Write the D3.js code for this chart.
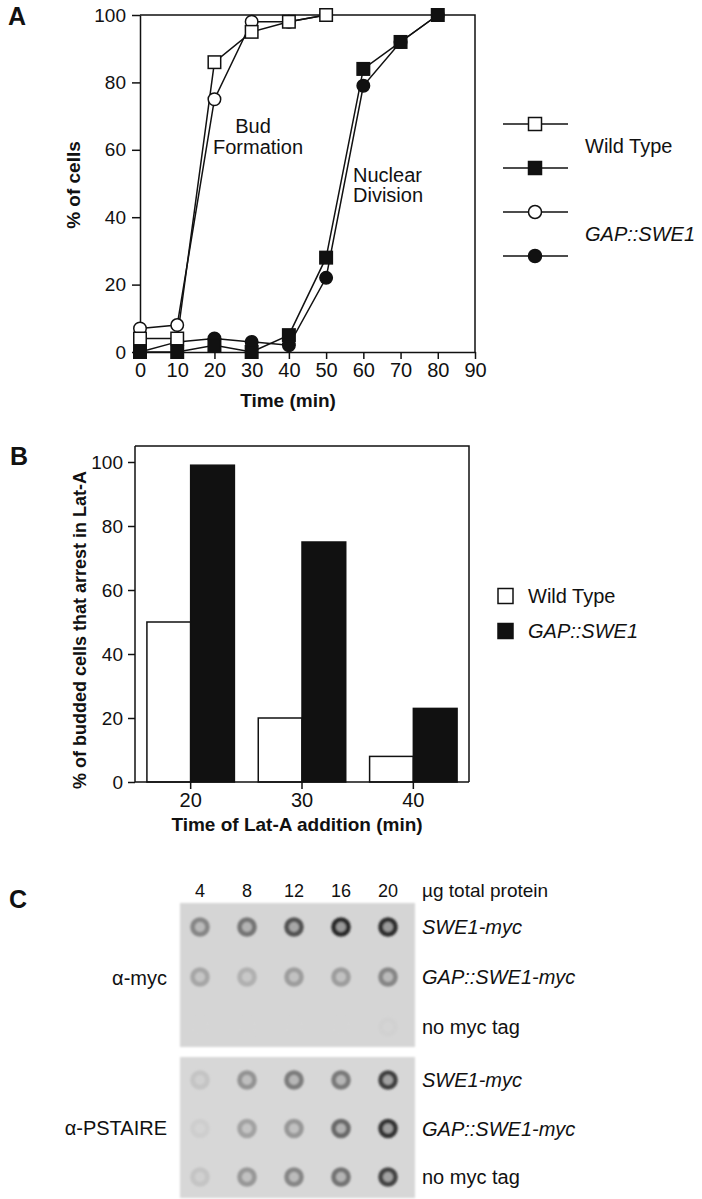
<!DOCTYPE html>
<html><head><meta charset="utf-8">
<script src="https://cdn.jsdelivr.net/npm/d3@7"></script>
<style>
body{margin:0;background:#fff}
svg{display:block}
text{font-family:"Liberation Sans",Arial,Helvetica,sans-serif;fill:#111}
</style>
</head><body>
<svg id="c" width="702" height="1199"></svg>
<script>
// ---------- DATA ----------
// Panel A
const timeA = [0,10,20,30,40,50,60,70,80];
const budWT = [4,4,86,95,98,100];
const budGAP = [7,8,75,98,98,100];
const nucWT = [0,0,2,0,5,28,84,92,100];
const nucGAP = [0,3,4,3,2,22,79,92,100];
const xTicksA = [0,10,20,30,40,50,60,70,80,90];
const yTicksA = [0,20,40,60,80,100];
const legendA = ["Wild Type","GAP::SWE1"];
// Panel B
const latTimes = ["20","30","40"];
const arrestWT = [50,20,8];
const arrestGAP = [99,75,23];
const yTicksB = [0,20,40,60,80,100];
// Panel C
const proteinUg = [4,8,12,16,20];
const blotRows = ["SWE1-myc","GAP::SWE1-myc","no myc tag"];
const mycSignal = [[0.42,0.52,0.7,0.92,0.9],[0.25,0.2,0.3,0.3,0.42],[0.0,0.0,0.0,0.0,0.02]];
const pstaireSignal = [[0.1,0.36,0.48,0.5,0.8],[0.05,0.28,0.34,0.58,0.85],[0.1,0.34,0.43,0.53,0.78]];

// ---------- DRAW ----------
const svg = d3.select("#c");
const INK = "#111";
const LW = 1.5;

function styleAxis(g, fs){
  g.select(".domain").attr("stroke",INK).attr("stroke-width",LW);
  g.selectAll(".tick line").attr("stroke",INK).attr("stroke-width",LW);
  g.selectAll(".tick text").attr("font-size",fs).attr("fill",INK)
    .style("font-family",'"Liberation Sans",Arial,sans-serif');
}

// ===== Panel A =====
const xA = d3.scaleLinear().domain([0,90]).range([140,475]);
const yA = d3.scaleLinear().domain([0,100]).range([352,15]);
const gA = svg.append("g");
svg.append("text").attr("x",8).attr("y",25).attr("font-size",25).attr("font-weight","bold").text("A");

gA.append("path").attr("d",`M${xA(0)},${yA(100)}H${xA(90)}V${yA(0)}`)
  .attr("fill","none").attr("stroke",INK).attr("stroke-width",LW);
const axAL = gA.append("g").attr("transform",`translate(${xA(0)},0)`)
  .call(d3.axisLeft(yA).tickValues(yTicksA).tickSize(8).tickSizeOuter(0).tickPadding(6));
styleAxis(axAL,19);
const axAB = gA.append("g").attr("transform",`translate(0,${yA(0)})`)
  .call(d3.axisBottom(xA).tickValues(xTicksA).tickSize(7).tickSizeOuter(0).tickPadding(4));
styleAxis(axAB,20);

gA.append("text").attr("x",288).attr("y",407).attr("text-anchor","middle")
  .attr("font-size",19).attr("font-weight","bold").text("Time (min)");
gA.append("text").attr("transform","translate(80,185) rotate(-90)").attr("text-anchor","middle")
  .attr("font-size",19).attr("font-weight","bold").text("% of cells");

const lineA = d3.line().x((d,i)=>xA(timeA[i])).y(d=>yA(d));
const seriesA = [
  {v:nucGAP, shape:"circle", fill:INK},
  {v:nucWT, shape:"square", fill:INK},
  {v:budGAP, shape:"circle", fill:"#fff"},
  {v:budWT, shape:"square", fill:"#fff"}
];
seriesA.forEach(s=>{
  gA.append("path").datum(s.v).attr("d",lineA).attr("fill","none").attr("stroke",INK).attr("stroke-width",LW);
});
function marker(g, shape, fill, cx, cy, size){
  if(shape==="circle"){
    g.append("circle").attr("cx",cx).attr("cy",cy).attr("r",size/2)
      .attr("fill",fill).attr("stroke",INK).attr("stroke-width",LW);
  } else {
    g.append("rect").attr("x",cx-size/2).attr("y",cy-size/2).attr("width",size).attr("height",size)
      .attr("fill",fill).attr("stroke",INK).attr("stroke-width",LW);
  }
}
seriesA.forEach(s=>{
  s.v.forEach((d,i)=>marker(gA,s.shape,s.fill,xA(timeA[i]),yA(d),12.5));
});

gA.append("text").attr("x",253).attr("y",133).attr("text-anchor","middle").attr("font-size",20).text("Bud");
gA.append("text").attr("x",258).attr("y",154).attr("text-anchor","middle").attr("font-size",20).text("Formation");
gA.append("text").attr("x",353).attr("y",182).attr("font-size",20).text("Nuclear");
gA.append("text").attr("x",353).attr("y",202).attr("font-size",20).text("Division");

// legend A
const legItems = [
  {shape:"square",fill:"#fff"},{shape:"square",fill:INK},
  {shape:"circle",fill:"#fff"},{shape:"circle",fill:INK}
];
const legY = d3.scaleLinear().domain([0,3]).range([124,256]);
legItems.forEach((it,i)=>{
  const y = legY(i);
  gA.append("line").attr("x1",503).attr("x2",568).attr("y1",y).attr("y2",y).attr("stroke",INK).attr("stroke-width",LW);
  marker(gA,it.shape,it.fill,535,y,13);
});
gA.append("text").attr("x",585).attr("y",(legY(0)+legY(1))/2).attr("dy","0.35em").attr("font-size",20).text(legendA[0]);
gA.append("text").attr("x",585).attr("y",(legY(2)+legY(3))/2).attr("dy","0.35em").attr("font-size",20)
  .attr("font-style","italic").text(legendA[1]);

// ===== Panel B =====
const gB = svg.append("g");
svg.append("text").attr("x",10).attr("y",465).attr("font-size",25).attr("font-weight","bold").text("B");
const xB = d3.scaleBand().domain(latTimes).range([135,469]).paddingInner(0.2143).paddingOuter(0.107);
const yB = d3.scaleLinear().domain([0,100]).range([782,462]);
const bw = xB.bandwidth()/2;
gB.selectAll("rect.wt").data(latTimes).join("rect").attr("class","wt")
  .attr("x",d=>xB(d)).attr("width",bw).attr("y",(d,i)=>yB(arrestWT[i])).attr("height",(d,i)=>yB(0)-yB(arrestWT[i]))
  .attr("fill","#fff").attr("stroke",INK).attr("stroke-width",LW);
gB.selectAll("rect.gap").data(latTimes).join("rect").attr("class","gap")
  .attr("x",d=>xB(d)+bw).attr("width",bw).attr("y",(d,i)=>yB(arrestGAP[i])).attr("height",(d,i)=>yB(0)-yB(arrestGAP[i]))
  .attr("fill",INK).attr("stroke",INK).attr("stroke-width",LW);
gB.append("path").attr("d",`M135,${yB(105)}H469V${yB(0)}`).attr("fill","none").attr("stroke",INK).attr("stroke-width",LW);
const axBL = gB.append("g").attr("transform","translate(135,0)")
  .call(d3.axisLeft(yB).tickValues(yTicksB).tickSize(7).tickSizeOuter(0).tickPadding(5));
styleAxis(axBL,19);
axBL.select(".domain").attr("d",`M0,${yB(105)}V${yB(0)}`);
const axBB = gB.append("g").attr("transform",`translate(0,${yB(0)})`)
  .call(d3.axisBottom(xB).tickSize(7).tickSizeOuter(0).tickPadding(4));
styleAxis(axBB,20);
axBB.select(".domain").attr("d","M135,0H469");
gB.append("text").attr("x",297).attr("y",831).attr("text-anchor","middle")
  .attr("font-size",19).attr("font-weight","bold").text("Time of Lat-A addition (min)");
gB.append("text").attr("transform","translate(86,630) rotate(-90)").attr("text-anchor","middle")
  .attr("font-size",18).attr("font-weight","bold").text("% of budded cells that arrest in Lat-A");
// legend B
[["#fff",legendA[0],"normal"],[INK,legendA[1],"italic"]].forEach((d,i)=>{
  const cy = 596 + i*35;
  gB.append("rect").attr("x",498).attr("y",cy-7.5).attr("width",15).attr("height",15)
    .attr("fill",d[0]).attr("stroke",INK).attr("stroke-width",LW);
  gB.append("text").attr("x",528).attr("y",cy).attr("dy","0.35em").attr("font-size",20)
    .attr("font-style",d[2]).text(d[1]);
});

// ===== Panel C =====
const gC = svg.append("g");
svg.append("text").attr("x",9).attr("y",908).attr("font-size",25).attr("font-weight","bold").text("C");
const defs = svg.append("defs");
defs.append("filter").attr("id","blur").attr("x","-50%").attr("y","-50%").attr("width","200%").attr("height","200%")
  .append("feGaussianBlur").attr("stdDeviation",1.1);
defs.append("filter").attr("id","soft").append("feGaussianBlur").attr("stdDeviation",0.8);
const xC = d3.scaleLinear().domain([4,20]).range([200,388]);
const blots = [
  {top:903, bot:1047, rows:[927,1027], sig:mycSignal, label:"\u03B1-myc", ly:978, bg:"#d5d5d5"},
  {top:1057, bot:1198, rows:[1080,1177], sig:pstaireSignal, label:"\u03B1-PSTAIRE", ly:1128, bg:"#d7d7d7"}
];
blots.forEach(b=>{
  const ringCol = d3.interpolateRgb(b.bg,"#1a1a1a");
  const yR = d3.scalePoint().domain(blotRows).range(b.rows);
  gC.append("rect").attr("x",180).attr("y",b.top).attr("width",235).attr("height",b.bot-b.top)
    .attr("fill",b.bg).attr("filter","url(#soft)");
  blotRows.forEach((r,ri)=>{
    const cells = gC.append("g").attr("filter","url(#blur)");
    proteinUg.forEach((p,ci)=>{
      const s = b.sig[ri][ci];
      cells.append("circle").attr("cx",xC(p)).attr("cy",yR(r)).attr("r",7.4)
        .attr("fill",ringCol(s*0.35)).attr("stroke",ringCol(s)).attr("stroke-width",4.8);
    });
    gC.append("text").attr("x",422).attr("y",yR(r)).attr("dy","0.35em").attr("font-size",20)
      .attr("font-style", r==="no myc tag" ? "normal" : "italic").text(r);
  });
  gC.append("text").attr("x",167).attr("y",b.ly).attr("dy","0.35em").attr("text-anchor","end")
    .attr("font-size",20).text(b.label);
});
proteinUg.forEach(p=>{
  gC.append("text").attr("x",xC(p)).attr("y",897).attr("text-anchor","middle").attr("font-size",18).text(p);
});
gC.append("text").attr("x",422).attr("y",897).attr("font-size",19).text("\u00B5g total protein");
</script>
</body></html>
